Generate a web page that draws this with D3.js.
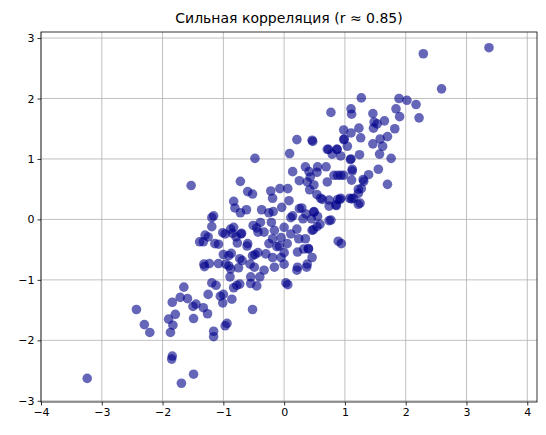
<!DOCTYPE html>
<html>
<head>
<meta charset="utf-8">
<script src="https://cdn.jsdelivr.net/npm/d3@7"></script>
<style>
  body { margin: 0; background: #fff; }
  text { font-family: "DejaVu Sans", sans-serif; }
</style>
</head>
<body>
<div id="chart"></div>
<script>
// points: [x, y]
var pointsLow = [
  [-3.24,-2.63],[-2.43,-1.49],[-2.30,-1.74],[-2.21,-1.87],[-1.85,-2.31],[-1.84,-2.26],
  [-1.49,-2.56],[-1.69,-2.71],[-1.87,-1.87],[-1.83,-1.75],[-1.90,-1.65],[-1.79,-1.57],
  [-1.84,-1.37],[-1.71,-1.29],[-1.65,-1.12],[-1.59,-1.31],[-1.50,-1.44],[-1.45,-1.40],
  [-1.49,-1.64],[-1.33,-1.46],[-1.26,-1.56],[-1.25,-1.24],[-1.16,-1.85],[-1.16,-1.94],
  [-0.97,-1.76],[-0.94,-1.72],[-0.86,-1.32],[-0.52,-1.49],[-1.01,-1.38],[-1.05,-1.27],
  [-1.00,-1.24],[-1.19,-1.05],[-1.12,-1.09],[-0.83,-1.13],[-0.78,-1.09],[-0.89,-0.95],
  [-0.73,-1.07],[-0.55,-1.06],[-0.45,-1.10],[-1.39,-0.37],[-1.30,-0.26],[-1.14,-0.40],
  [-1.32,-0.74],[-1.31,-0.78],[-1.23,-0.73],[-1.08,-0.73],[-1.00,-0.58],[-0.87,-0.56],
  [-1.01,-0.22],[-0.85,-0.23],[-0.70,-0.23],[-0.77,-0.39],[-0.61,-0.44],[-0.73,-0.65],
  [-0.91,-0.77],[-0.75,-0.80],[-0.56,-0.74],[-0.88,-0.16],[-1.19,-0.12],[-0.48,-0.58],
  [-0.45,-0.14]
];
var pointsMid = [
  [-1.53,0.56],[-0.48,1.01],[-0.72,0.63],[0.09,1.09],[0.47,1.29],[0.71,1.16],[0.87,1.16],
  [0.21,1.32],[0.98,1.32],[1.09,0.99],[1.12,0.80],[-0.83,0.30],[-0.81,0.19],[-0.72,0.11],
  [-0.62,0.16],[-0.60,0.46],[-0.52,0.42],[-0.22,0.47],[-0.19,0.35],[-0.07,0.51],[0.06,0.51],
  [0.08,0.31],[-0.37,0.16],[-0.25,0.11],[-0.18,0.13],[-0.04,0.20],[0.14,0.79],[0.25,0.64],
  [0.35,0.87],[0.43,0.70],[0.54,0.78],[0.69,0.87],[0.88,0.73],[0.98,0.73],[0.42,0.49],
  [0.54,0.41],[0.63,0.33],[0.74,0.22],[0.88,0.33],[1.08,0.35],[0.25,0.18],[0.49,0.12],
  [0.14,0.06],[0.31,0.01],[0.45,0.01],[0.74,-0.02],[0.54,-0.12],[-1.19,0.03],[-1.16,0.06],
  [-1.33,-0.37],[-1.25,-0.29],[-1.08,-0.41],[-0.97,-0.24],[-0.83,-0.13],[-0.79,-0.29],
  [-0.71,-0.24],[-0.60,-0.40],[-0.51,-0.10],[-0.43,-0.21],[-0.39,-0.05],[-0.33,-0.21],
  [-0.21,-0.05],[-0.16,-0.18],[-0.19,-0.32],[-0.08,-0.44],[0.00,-0.55],[0.00,-0.13],
  [0.11,-0.24],[0.21,-0.16],[0.24,-0.32],[0.35,-0.32],[0.46,-0.18],[0.32,-0.49],[0.40,-0.49],
  [0.21,-0.84],[0.37,-0.79],[0.94,-0.40],[-0.16,-0.79],[-0.33,-0.84],[-0.49,-0.79],
  [-0.69,-0.68],[-0.91,-0.60],[-0.96,-0.74],[-0.88,-0.82],[-0.52,-0.60],[-0.43,-0.55],
  [-0.30,-0.57],[-0.19,-0.63],[-0.05,-0.63],[-0.55,-0.95],[-0.40,-0.95],
  [0.89,-0.36],[0.77,-0.01],[0.59,-0.08],[0.55,0.05],[0.46,-0.63],[0.38,-0.74],[0.22,-0.79],
  [0.22,-0.54],[0.40,-0.48],[0.48,-0.17],[0.36,0.09],[0.00,-0.74],[0.03,-1.05],[0.06,-1.08],
  [0.92,0.33],[0.86,0.23],[0.11,0.03],[-0.05,-0.30],[-0.12,-0.45],[0.05,-0.40],[-0.25,-0.40]
];
var pointsHigh = [
  [3.37,2.84],[2.29,2.74],[2.59,2.16],[1.89,2.00],[2.02,1.97],[2.17,1.90],[2.22,1.68],
  [1.84,1.83],[1.90,1.70],[1.82,1.50],[1.70,1.37],[1.58,1.33],[1.65,1.63],[1.48,1.61],
  [1.47,1.51],[1.46,1.75],[1.53,1.58],[1.62,1.21],[1.46,1.25],[1.57,1.08],[1.76,1.01],
  [1.55,0.83],[1.70,0.58],[1.39,0.74],[1.30,0.66],[1.24,1.07],[1.27,2.01],[1.10,1.83],
  [1.11,1.74],[0.77,1.77],[1.23,1.51],[1.26,1.35],[1.10,1.43],[0.98,1.48],[0.99,1.33],
  [1.04,1.21],[0.46,1.31],[0.73,1.16],[0.87,1.16],[0.79,1.08],[0.93,1.05],[1.10,1.00],
  [1.12,0.83],[1.11,0.65],[1.27,0.51],[1.22,0.43],[1.14,0.35],[1.25,0.27],[0.93,0.35],
  [0.85,0.24],[0.74,0.32],[0.60,0.35],[0.49,0.13],[0.29,0.19],[0.55,0.87],[0.41,0.79],
  [0.93,0.73],[0.71,0.62],[0.49,0.57],[0.38,0.62],[0.82,0.73],[1.31,0.63],[1.22,0.50],
  [1.11,0.34],[1.22,0.25]
];
var xTicks = [-4, -3, -2, -1, 0, 1, 2, 3, 4];
var yTicks = [-3, -2, -1, 0, 1, 2, 3];
var titleText = "Сильная корреляция (r ≈ 0.85)";

var W = 546, H = 435;
var margin = {top: 32, right: 9, bottom: 33, left: 41};
var width = W - margin.left - margin.right;
var height = H - margin.top - margin.bottom;

var svg = d3.select("#chart").append("svg")
    .attr("width", W).attr("height", H);
var g = svg.append("g")
    .attr("transform", "translate(" + margin.left + "," + margin.top + ")");

var x = d3.scaleLinear().domain([-4.0, 4.16]).range([0, width]);
var y = d3.scaleLinear().domain([-3.02, 3.1]).range([height, 0]);

// grid
g.selectAll(".gx").data(xTicks).enter().append("line")
    .attr("x1", d => x(d)).attr("x2", d => x(d))
    .attr("y1", 0).attr("y2", height)
    .attr("stroke", "#b0b0b0").attr("stroke-width", 0.8);
g.selectAll(".gy").data(yTicks).enter().append("line")
    .attr("y1", d => y(d)).attr("y2", d => y(d))
    .attr("x1", 0).attr("x2", width)
    .attr("stroke", "#b0b0b0").attr("stroke-width", 0.8);

var all = pointsLow.concat(pointsMid, pointsHigh);
g.selectAll("circle").data(all).enter().append("circle")
    .attr("cx", d => x(d[0])).attr("cy", d => y(d[1]))
    .attr("r", 4.8)
    .attr("fill", "#00008b").attr("fill-opacity", 0.6);

var fmt = d => d < 0 ? "\u2212" + Math.abs(d) : "" + d;
var xa = g.append("g").attr("transform", "translate(0," + height + ")")
    .call(d3.axisBottom(x).tickValues(xTicks).tickFormat(fmt).tickSize(3.5).tickPadding(3));
var ya = g.append("g")
    .call(d3.axisLeft(y).tickValues(yTicks).tickFormat(fmt).tickSize(3.5).tickPadding(3));
[xa, ya].forEach(function (a) {
    a.selectAll("text").style("font-size", "11px").attr("fill", "#000")
        .style("font-family", "DejaVu Sans");
    a.selectAll("line").attr("stroke", "#000").attr("stroke-width", 0.8);
    a.select(".domain").remove();
});

g.append("rect").attr("width", width).attr("height", height)
    .attr("fill", "none").attr("stroke", "#000").attr("stroke-width", 0.8);

svg.append("text").attr("x", margin.left + width / 2).attr("y", 23)
    .attr("text-anchor", "middle").style("font-size", "14px").text(titleText);
</script>
</body>
</html>
